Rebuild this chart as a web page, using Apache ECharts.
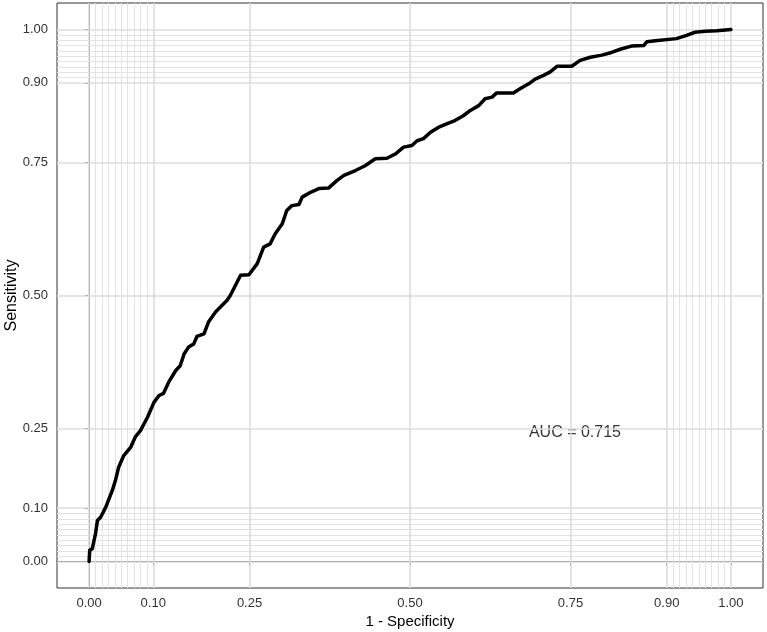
<!DOCTYPE html>
<html>
<head>
<meta charset="utf-8">
<script src="https://cdn.jsdelivr.net/npm/echarts@6/dist/echarts.min.js"></script>
<style>html,body{margin:0;padding:0;background:#fff;}#c{width:767px;height:632px;}</style>
</head>
<body>
<div id="c"></div>
<script>
// ROC curve points: [1 - specificity, sensitivity]
const rocFpr = [0,0.001,0.005,0.010,0.013,0.018,0.026,0.036,0.041,0.046,0.054,0.065,0.072,0.080,0.091,0.101,0.109,0.116,0.124,0.135,0.142,0.148,0.155,0.163,0.168,0.179,0.186,0.197,0.207,0.215,0.220,0.236,0.249,0.262,0.272,0.282,0.290,0.301,0.308,0.316,0.327,0.332,0.345,0.358,0.373,0.386,0.397,0.415,0.430,0.446,0.464,0.477,0.490,0.503,0.511,0.521,0.532,0.544,0.558,0.570,0.583,0.594,0.607,0.617,0.628,0.635,0.661,0.672,0.685,0.695,0.708,0.718,0.729,0.752,0.765,0.781,0.799,0.814,0.830,0.845,0.864,0.869,0.882,0.915,0.931,0.944,0.960,0.978,1.0];
const rocTpr = [0,0.021,0.024,0.052,0.077,0.083,0.102,0.133,0.152,0.177,0.199,0.215,0.234,0.246,0.271,0.299,0.312,0.316,0.337,0.359,0.368,0.390,0.403,0.409,0.423,0.428,0.450,0.469,0.481,0.491,0.500,0.538,0.539,0.560,0.591,0.597,0.616,0.635,0.660,0.669,0.671,0.685,0.694,0.701,0.702,0.716,0.726,0.735,0.744,0.757,0.758,0.766,0.779,0.782,0.791,0.795,0.807,0.816,0.823,0.829,0.838,0.848,0.857,0.870,0.873,0.881,0.881,0.889,0.898,0.907,0.914,0.920,0.931,0.931,0.942,0.948,0.952,0.957,0.964,0.969,0.970,0.977,0.979,0.983,0.989,0.995,0.997,0.998,1.0];
const majorBreaks = [0, 0.1, 0.25, 0.5, 0.75, 0.9, 1];
const minorBreaks = [0.01,0.02,0.03,0.04,0.05,0.06,0.07,0.08,0.09,0.91,0.92,0.93,0.94,0.95,0.96,0.97,0.98,0.99];
const diagonal = [[0, 0], [1, 1]];
const aucText = 'AUC = 0.715';
const aucPos = [0.757, 0.243];
const xTitle = '1 - Specificity';
const yTitle = 'Sensitivity';

const font = '"Liberation Sans", Arial, sans-serif';
const curve = rocFpr.map((x, i) => [x, rocTpr[i]]);

const gridLines = [];
minorBreaks.forEach(v => {
  gridLines.push({xAxis: v, lineStyle: {color: '#e3e3e3', width: 1, type: 'solid'}});
  gridLines.push({yAxis: v, lineStyle: {color: '#e3e3e3', width: 1, type: 'solid'}});
});
majorBreaks.forEach(v => {
  gridLines.push({xAxis: v, lineStyle: {color: '#dcdcdc', width: 1.6, type: 'solid'}});
  gridLines.push({yAxis: v, lineStyle: {color: '#dcdcdc', width: 1.6, type: 'solid'}});
});

const axisCommon = {
  type: 'value', min: -0.05, max: 1.05,
  splitLine: {show: false},
  axisLine: {show: true, lineStyle: {color: '#333', width: 1}},
  axisTick: {show: true, length: 4, inside: false, customValues: majorBreaks, lineStyle: {color: '#333', width: 1}},
  axisLabel: {customValues: majorBreaks, color: '#333', fontFamily: font, fontSize: 13,
    formatter: v => Number(v).toFixed(2)},
  nameLocation: 'middle',
  nameMoveOverlap: false
};

const chart = echarts.init(document.getElementById('c'), null, {renderer: 'canvas'});
chart.setOption({
  animation: false,
  backgroundColor: '#fff',
  grid: {left: 57, right: 4, top: 3, bottom: 44, show: true, borderColor: '#333', borderWidth: 1,
    containLabel: false, outerBoundsMode: 'none'},
  xAxis: Object.assign({}, axisCommon, {name: xTitle, nameGap: 26,
    nameTextStyle: {color: '#000', fontFamily: font, fontSize: 15},
    axisLabel: Object.assign({}, axisCommon.axisLabel, {margin: 9})}),
  yAxis: Object.assign({}, axisCommon, {name: yTitle, nameGap: 37,
    nameTextStyle: {color: '#000', fontFamily: font, fontSize: 16},
    axisLabel: Object.assign({}, axisCommon.axisLabel, {margin: 9})}),
  series: [
    {
      type: 'line', data: [], silent: true,
      markLine: {silent: true, symbol: 'none', label: {show: false}, animation: false, data: gridLines}
    },
    {
      type: 'line', data: diagonal, silent: true, symbol: 'none',
      lineStyle: {color: '#ffffff', width: 1.5, type: [2, 3]}, z: 3
    },
    {
      type: 'line', data: curve, symbol: 'none', silent: true,
      lineStyle: {color: '#000', width: 3.5, join: 'round', cap: 'round'}, z: 5
    },
    {
      type: 'scatter', data: [aucPos], symbolSize: 0, silent: true,
      label: {show: true, position: 'inside', formatter: aucText, color: '#000', fontFamily: font, fontSize: 16}
    }
  ]
});
</script>
</body>
</html>
